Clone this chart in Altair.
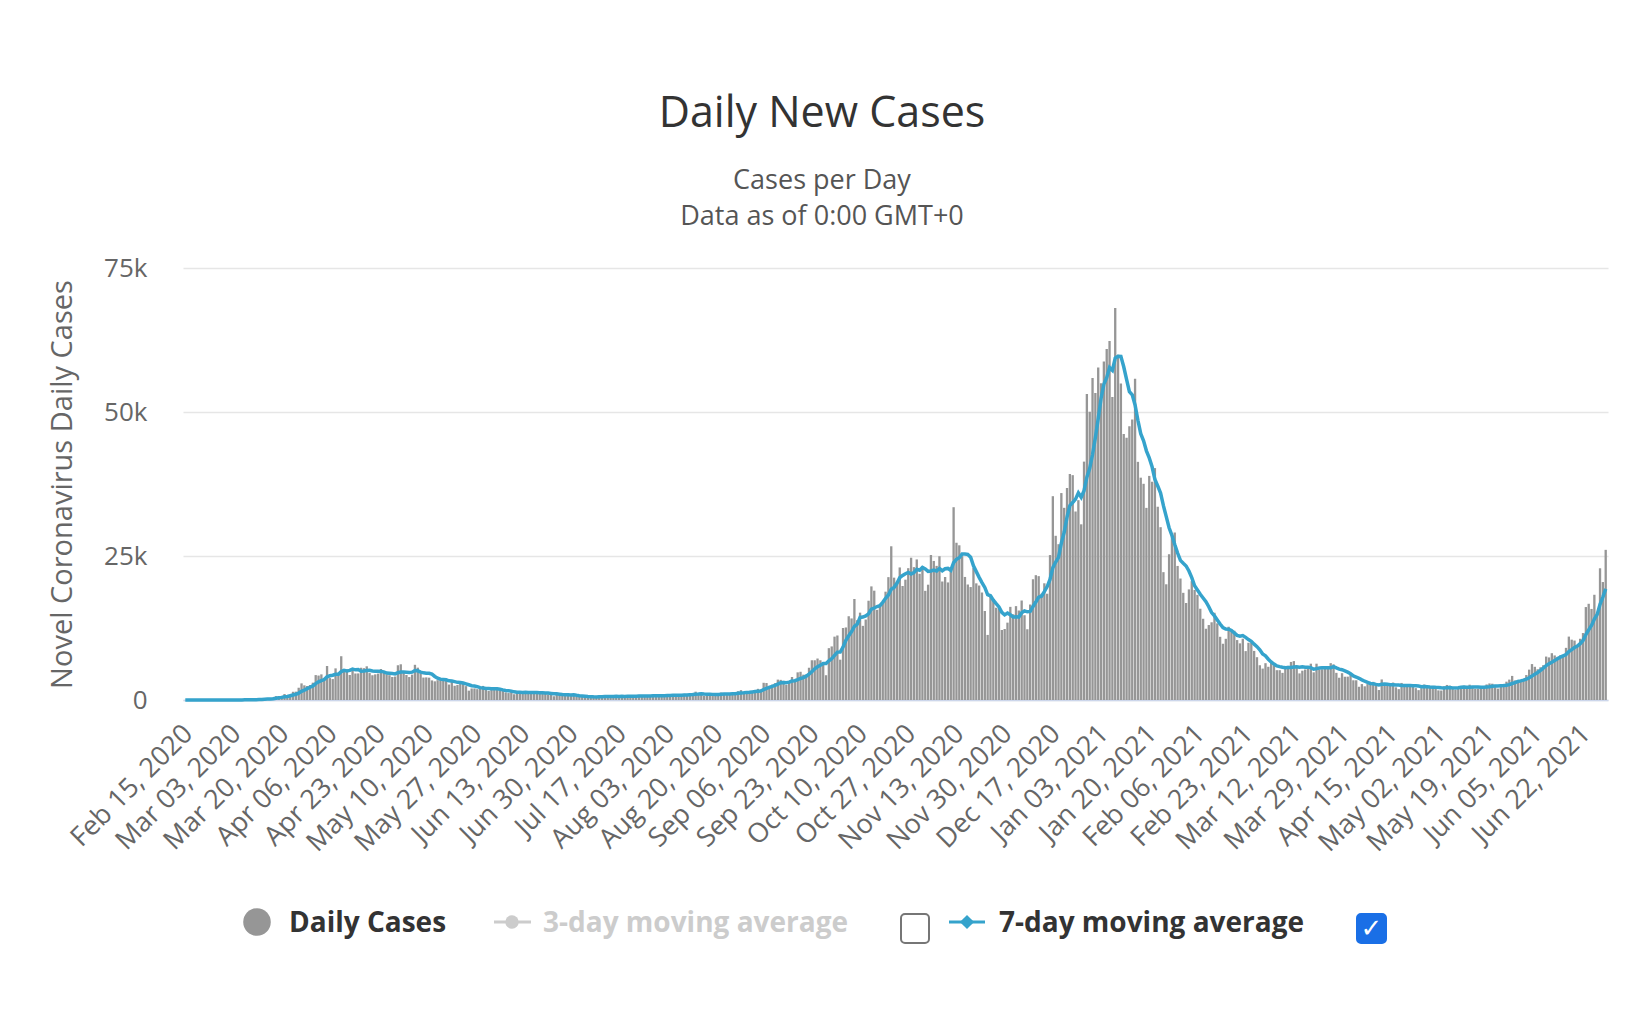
import altair as alt
import pandas as pd

START_DATE = "2020-02-15"

# Daily new cases (UK), month by month
FEB_2020 = [0, 0, 0, 0, 0, 0, 0, 0, 0, 4, 0, 0, 2, 5, 3]
MAR_2020 = [13, 4, 11, 34, 30, 48, 43, 67, 46, 50, 83, 134, 208, 342, 251, 152, 407, 676, 643, 714,
            1035, 665, 967, 1427, 1452, 2129, 2885, 2546, 2433, 2619, 3009]
APR_2020 = [4324, 4244, 4450, 3735, 5903, 3802, 3634, 5491, 4344, 7600, 5233, 5288, 4342, 5252, 4603,
            4617, 5599, 5525, 5850, 4676, 4301, 4451, 4583, 5386, 4913, 4463, 4310, 3996, 4076, 6032]
MAY_2020 = [6201, 4806, 4339, 3985, 4406, 6111, 5614, 4649, 3896, 3923, 3877, 3403, 3242, 3446, 3560,
            3450, 3534, 2684, 3142, 2472, 2615, 3287, 2959, 2409, 1625, 2004, 2013, 1887, 2095, 2445, 1936]
JUN_2020 = [1570, 1871, 1871, 1805, 1650, 1557, 1326, 1205, 1387, 1003, 1266, 1541, 1425, 1514, 1056,
            1279, 1115, 1218, 1346, 1295, 1221, 958, 874, 653, 1118, 1006, 890, 901, 815, 689]
JUL_2020 = [829, 576, 544, 624, 516, 352, 581, 630, 512, 820, 650, 650, 530, 598, 538, 642, 687, 827,
            580, 725, 445, 560, 769, 880, 767, 747, 685, 581, 763, 846, 880]
AUG_2020 = [743, 744, 938, 670, 892, 950, 871, 758, 1062, 816, 1148, 1009, 1441, 1012, 1040, 726, 713,
            1089, 812, 1182, 1033, 1288, 1041, 853, 1184, 1048, 1276, 1522, 1715, 1108, 1406]
SEP_2020 = [1295, 1508, 1735, 1940, 1813, 2988, 2948, 2460, 2659, 2919, 3539, 3497, 3330, 2621, 3105,
            3991, 3395, 4800, 4900, 4400, 4400, 5600, 6900, 6900, 7200, 6900, 6500, 4300, 9000, 9300]
OCT_2020 = [11000, 11200, 7000, 12500, 12594, 14542, 14162, 17540, 13864, 15166, 12872, 13972, 17234,
            19724, 18980, 15650, 16171, 16982, 18804, 21331, 26688, 21242, 20530, 23012, 19790, 20890,
            22885, 24701, 23065, 24405, 21915]
NOV_2020 = [23254, 18950, 20018, 25177, 24141, 23287, 24957, 20572, 21350, 20412, 22950, 33470, 27301,
            26860, 24962, 21363, 20051, 19609, 22915, 20252, 19875, 18662, 15450, 11299, 18213, 17555,
            16022, 15871, 12155, 12330]
DEC_2020 = [13430, 16170, 14879, 16298, 15539, 17272, 14718, 12282, 16578, 20964, 21672, 21502, 18447,
            20263, 18450, 25161, 35383, 28507, 27052, 35928, 33364, 36804, 39237, 39036, 32725, 34693,
            30501, 41385, 53135, 50023, 55892]
JAN_2021 = [53285, 57725, 54990, 58784, 60916, 62322, 52618, 68053, 59937, 54940, 46169, 45533, 47525,
            48682, 55761, 41346, 38598, 37535, 33355, 38905, 37892, 40261, 33552, 30004, 22195, 20089,
            25308, 28680, 29079, 23275, 21088]
FEB_2021 = [18607, 16840, 19202, 20634, 19114, 18262, 15845, 14104, 12364, 13013, 13494, 15144, 13308,
            10972, 9765, 10625, 12718, 12057, 12027, 10406, 9834, 10641, 8489, 9938, 9985, 8523, 7434, 6035]
MAR_2021 = [5455, 6391, 5766, 6573, 6040, 5177, 5177, 4712, 5766, 5926, 6609, 6753, 5534, 4618, 5089,
            5294, 5758, 6303, 4802, 6303, 5312, 5342, 5379, 5605, 6397, 6187, 4715, 3862, 4654, 4040, 4052]
APR_2021 = [4479, 3423, 3423, 2297, 2762, 2379, 2763, 3030, 3150, 2589, 1730, 3568, 2472, 2491, 2672,
            3027, 2206, 1882, 2963, 2524, 2396, 2729, 2678, 2061, 1712, 2064, 2685, 2166, 2381, 2445]
MAY_2021 = [1907, 1671, 1649, 2357, 2613, 2490, 2047, 1770, 1946, 2357, 2474, 2284, 2657, 2193, 1926,
            1979, 2027, 2412, 2696, 2874, 2829, 2235, 1979, 2439, 2493, 3180, 3542, 4182, 3398, 3240, 3165]
JUN_2021 = [3383, 4330, 5274, 6238, 5765, 5341, 5683, 6048, 7540, 7393, 8125, 7738, 7490, 7742, 7673,
            9055, 11007, 10476, 10321, 9284, 10633, 11625, 16135, 16703, 15810, 18270, 14876, 22868,
            20479, 26068]

TICK_LABELS = ["Feb 15, 2020", "Mar 03, 2020", "Mar 20, 2020", "Apr 06, 2020", "Apr 23, 2020",
               "May 10, 2020", "May 27, 2020", "Jun 13, 2020", "Jun 30, 2020", "Jul 17, 2020",
               "Aug 03, 2020", "Aug 20, 2020", "Sep 06, 2020", "Sep 23, 2020", "Oct 10, 2020",
               "Oct 27, 2020", "Nov 13, 2020", "Nov 30, 2020", "Dec 17, 2020", "Jan 03, 2021",
               "Jan 20, 2021", "Feb 06, 2021", "Feb 23, 2021", "Mar 12, 2021", "Mar 29, 2021",
               "Apr 15, 2021", "May 02, 2021", "May 19, 2021", "Jun 05, 2021", "Jun 22, 2021"]
Y_TICKS = [0, 25000, 50000, 75000]

TITLE = "Daily New Cases"
SUBTITLE_1 = "Cases per Day"
SUBTITLE_2 = "Data as of 0:00 GMT+0"
Y_TITLE = "Novel Coronavirus Daily Cases"

cases = (FEB_2020 + MAR_2020 + APR_2020 + MAY_2020 + JUN_2020 + JUL_2020 + AUG_2020 + SEP_2020 +
         OCT_2020 + NOV_2020 + DEC_2020 + JAN_2021 + FEB_2021 + MAR_2021 + APR_2021 + MAY_2021 + JUN_2021)
dates = pd.date_range(START_DATE, periods=len(cases), freq="D")
date_labels = [d.strftime("%b %d, %Y") for d in dates]

df = pd.DataFrame({"idx": list(range(len(cases))), "date": date_labels, "cases": cases})

FONT = "Open Sans"
GREY_BAR = "#969696"
BLUE = "#35a3cc"

W, H = 1425, 432

x_scale = alt.Scale(domain=date_labels, paddingInner=0.18, paddingOuter=0.4)
y_scale = alt.Scale(domain=[0, 75000], nice=False)

x_axis = alt.Axis(values=TICK_LABELS, labelAngle=-45, labelFontSize=27, labelColor="#666666",
                  labelFont=FONT, ticks=False, domainColor="#ccd6eb", domainWidth=1.5,
                  labelPadding=20, labelOffset=-6, labelOverlap=False, grid=False)
y_axis = alt.Axis(values=Y_TICKS,
                  labelExpr="datum.value == 0 ? '0' : (datum.value / 1000) + 'k'",
                  gridColor="#e6e6e6", gridWidth=1.5, domain=False, ticks=False,
                  labelPadding=36, labelFontSize=26, labelColor="#666666", labelFont=FONT,
                  titleFont=FONT, titleFontSize=29, titleColor="#666666",
                  titleFontWeight="normal", titleX=-121, titleY=H / 2,
                  titleBaseline="middle", titleAlign="center", titleAngle=-90)

bars = alt.Chart(df).mark_bar(color=GREY_BAR).encode(
    x=alt.X("date:O", scale=x_scale, title=None, axis=x_axis),
    y=alt.Y("cases:Q", scale=y_scale, title=Y_TITLE, axis=y_axis),
)

line = alt.Chart(df).transform_window(
    ma="mean(cases)", frame=[-6, 0], sort=[alt.SortField("idx")]
).mark_line(color=BLUE, strokeWidth=3.5).encode(
    x=alt.X("date:O", scale=x_scale, title=None, axis=x_axis),
    y=alt.Y("ma:Q", scale=y_scale, title=Y_TITLE, axis=y_axis),
)

one = pd.DataFrame({"k": [0]})


def text_layer(txt, x, y, size, color, weight="normal", align="center"):
    return alt.Chart(pd.DataFrame({"t": [txt]})).mark_text(
        font=FONT, fontSize=size, color=color, fontWeight=weight, align=align, baseline="alphabetic"
    ).encode(x=alt.value(x), y=alt.value(y), text="t:N")


title_t = text_layer(TITLE, 639, -141, 43, "#333333")
sub1 = text_layer(SUBTITLE_1, 639, -79, 27, "#555555")
sub2 = text_layer(SUBTITLE_2, 639, -43, 27, "#555555")

LEG_Y = 654
leg_dot = alt.Chart(one).mark_point(shape="circle", filled=True, size=760, color=GREY_BAR, opacity=1).encode(
    x=alt.value(74), y=alt.value(LEG_Y))
leg_t1 = text_layer("Daily Cases", 106, LEG_Y + 10, 28, "#333333", "bold", "left")

leg3_line = alt.Chart(one).mark_rule(color="#cccccc", strokeWidth=3).encode(
    x=alt.value(311), x2=alt.value(348), y=alt.value(LEG_Y))
leg3_dot = alt.Chart(one).mark_point(shape="circle", filled=True, size=180, color="#cccccc", opacity=1).encode(
    x=alt.value(329), y=alt.value(LEG_Y))
leg_t3 = text_layer("3-day moving average", 360, LEG_Y + 10, 28, "#cccccc", "bold", "left")
box1 = alt.Chart(one).mark_rect(fill="white", stroke="#767676", strokeWidth=2, cornerRadius=4).encode(
    x=alt.value(718), x2=alt.value(746), y=alt.value(646), y2=alt.value(675))

leg7_line = alt.Chart(one).mark_rule(color=BLUE, strokeWidth=3).encode(
    x=alt.value(766), x2=alt.value(802), y=alt.value(LEG_Y))
leg7_dot = alt.Chart(one).mark_point(shape="diamond", filled=True, size=200, color=BLUE, opacity=1).encode(
    x=alt.value(784), y=alt.value(LEG_Y))
leg_t7 = text_layer("7-day moving average", 816, LEG_Y + 10, 28, "#333333", "bold", "left")
box2 = alt.Chart(one).mark_rect(fill="#1a6fe6", stroke="#1a6fe6", strokeWidth=2, cornerRadius=4).encode(
    x=alt.value(1174), x2=alt.value(1203), y=alt.value(646), y2=alt.value(675))
check = alt.Chart(pd.DataFrame({"t": ["\u2713"]})).mark_text(
    font="DejaVu Sans", fontSize=26, color="white", fontWeight="bold", align="center", baseline="middle"
).encode(x=alt.value(1188.5), y=alt.value(661), text="t:N")

chart = alt.layer(
    bars, line, title_t, sub1, sub2,
    leg_dot, leg_t1, leg3_line, leg3_dot, leg_t3, box1, leg7_line, leg7_dot, leg_t7, box2, check
).properties(
    width=W, height=H,
    autosize=alt.AutoSizeParams(type="none"),
    padding={"left": 175, "top": 260, "right": 8, "bottom": 290},
).configure_view(stroke=None)

chart.save("out.html", embed_options={"renderer": "svg", "actions": False})
